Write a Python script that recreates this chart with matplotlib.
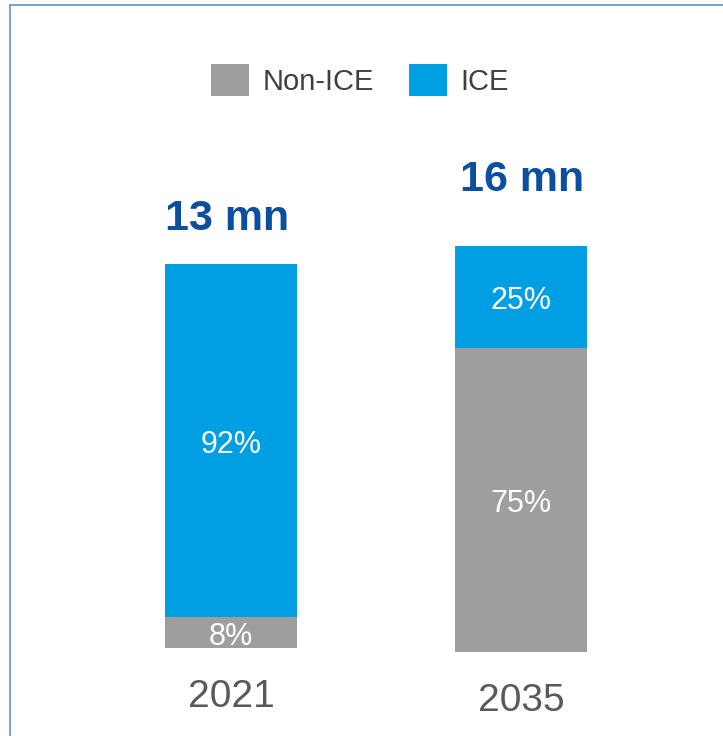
import matplotlib
matplotlib.use("Agg")
import matplotlib.pyplot as plt
from matplotlib.patches import Patch
from matplotlib.lines import Line2D

plt.rcParams['font.family'] = ['Liberation Sans', 'DejaVu Sans']

years = ["2021", "2035"]
non_ice_share = [8, 75]
ice_share = [92, 25]
totals = ["13 mn", "16 mn"]
# drawn bar height scale (relative) as in the reference
bar_scale = [0.946, 1.0]

GRAY = "#9E9E9E"
BLUE = "#009FE3"
DARKBLUE = "#0B50A0"
TEXT = "#595959"

W, H = 723, 736
fig = plt.figure(figsize=(W / 100, H / 100), dpi=100)
ax = fig.add_axes([0, 0, 1, 1])

px_x = 290.0   # px per x unit
px_y = 4.06    # px per y unit
base_px = 650
ax.set_xlim(-231 / px_x, (W - 231) / px_x)
ax.set_ylim(-(H - base_px) / px_y, base_px / px_y)
ax.axis("off")

dy = -4 / px_y  # text nudge

x = [0, 1]
bottoms = [0.5, -0.5]
width = 132 / px_x
non_h = [s * k for s, k in zip(non_ice_share, bar_scale)]
ice_h = [s * k for s, k in zip(ice_share, bar_scale)]
ice_b = [b + n for b, n in zip(bottoms, non_h)]

ax.bar(x, non_h, width, bottom=bottoms, color=GRAY, linewidth=0)
ax.bar(x, ice_h, width, bottom=ice_b, color=BLUE, linewidth=0)

for i in range(2):
    ax.text(x[i], bottoms[i] + non_h[i] / 2 + dy, f"{non_ice_share[i]}%", ha="center", va="center",
            fontsize=22, color="white")
    ax.text(x[i], ice_b[i] + ice_h[i] / 2 + dy, f"{ice_share[i]}%", ha="center", va="center",
            fontsize=22, color="white")

label_y = [-(693 - base_px) / px_y, -(697 - base_px) / px_y]
for i in range(2):
    ax.text(x[i], label_y[i] + dy, years[i], ha="center", va="center", fontsize=28, color=TEXT)

total_y = [(base_px - 215) / px_y, (base_px - 176) / px_y]
total_x = [-0.013, 0.003]
for i in range(2):
    ax.text(x[i] + total_x[i], total_y[i] + dy, totals[i], ha="center", va="center", fontsize=31,
            fontweight="bold", color=DARKBLUE)

handles = [Patch(facecolor=GRAY, edgecolor="none", label="Non-ICE"),
           Patch(facecolor=BLUE, edgecolor="none", label="ICE")]
fig.legend(handles=handles, loc="center", bbox_to_anchor=(360 / W, 1 - 80 / H), ncol=2,
           frameon=False, fontsize=21, handlelength=1.3, handleheight=1.35,
           handletextpad=0.45, columnspacing=1.2, borderpad=0, labelcolor="#404040")

# border (left and top)
bc = "#6F9BD1"
fig.add_artist(Line2D([9.5 / W, 9.5 / W], [0, 1 - 5 / H], color=bc, lw=1.3, transform=fig.transFigure))
fig.add_artist(Line2D([9.5 / W, 1], [1 - 5 / H, 1 - 5 / H], color=bc, lw=1.3, transform=fig.transFigure))

fig.savefig("out.png", dpi=100)
